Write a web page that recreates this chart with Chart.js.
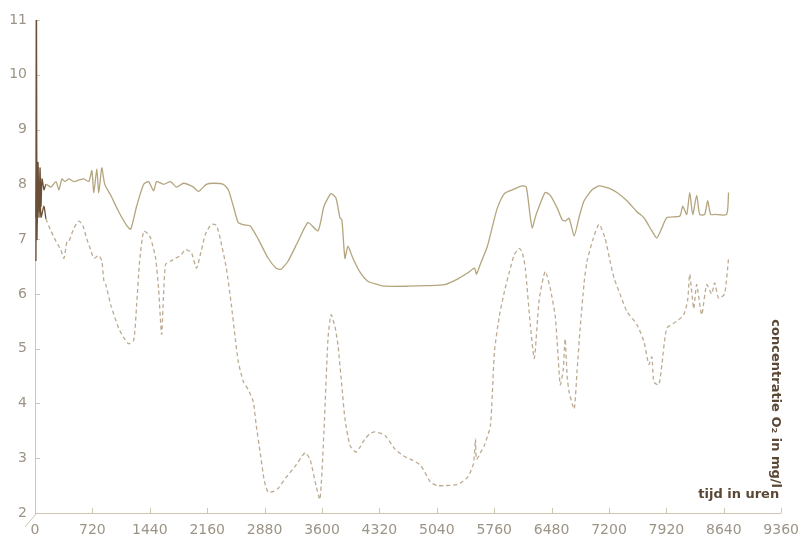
<!DOCTYPE html>
<html><head><meta charset="utf-8">
<script src="https://cdn.jsdelivr.net/npm/chart.js@4.4.1/dist/chart.umd.min.js"></script>
<style>html,body{margin:0;padding:0;background:#fff}#wrap{width:808px;height:540px;position:relative}</style>
</head><body><div id="wrap"><canvas id="c" width="808" height="540"></canvas></div>
<script>
const xTicks = [0,720,1440,2160,2880,3600,4320,5040,5760,6480,7200,7920,8640,9360];
const yTicks = [2,3,4,5,6,7,8,9,10,11];
const xTitle = 'tijd in uren';
const yTitle = 'concentratie O\u2082 in mg/l';

// upper (solid) series: hours and O2 concentration
const solidHours = [12,19,25,38,50,63,75,88,113,138,
  200,263,300,338,375,425,488,550,613,675,
  713,738,775,800,838,875,950,1050,1150,1200,
  1275,1363,1425,1488,1525,1613,1700,1775,1863,1988,
  2050,2150,2238,2363,2425,2488,2550,2625,2700,2800,
  2925,3025,3088,3175,3300,3425,3550,3625,3713,3775,
  3825,3850,3888,3925,3988,4075,4175,4300,4388,4675,
  4925,5138,5300,5425,5513,5538,5588,5675,5750,5800,
  5888,5988,6113,6163,6213,6238,6275,6325,6400,6463,
  6550,6613,6650,6700,6763,6825,6888,6988,7075,7150,
  7213,7300,7425,7550,7638,7738,7800,7863,7925,8088,
  8125,8175,8213,8250,8300,8338,8400,8438,8475,8525,
  8675,8700];
const solidValues = [6.6,11.0,7.0,8.4,7.4,8.3,7.6,8.1,7.9,8.0,
  7.95,8.05,7.9,8.1,8.05,8.1,8.05,8.08,8.1,8.05,
  8.25,7.85,8.28,7.85,8.3,8.0,7.8,7.5,7.25,7.18,
  7.6,8.0,8.05,7.88,8.05,8.0,8.05,7.95,8.02,7.95,
  7.87,8.0,8.02,8.0,7.9,7.6,7.3,7.26,7.24,7.0,
  6.65,6.47,6.45,6.6,6.96,7.3,7.15,7.6,7.83,7.75,
  7.39,7.35,6.65,6.87,6.65,6.4,6.23,6.17,6.14,6.14,
  6.15,6.17,6.27,6.38,6.47,6.36,6.55,6.87,7.3,7.57,
  7.83,7.9,7.97,7.95,7.4,7.2,7.4,7.6,7.85,7.8,
  7.57,7.35,7.33,7.38,7.06,7.4,7.7,7.9,7.97,7.95,
  7.92,7.85,7.7,7.5,7.39,7.15,7.02,7.2,7.39,7.42,
  7.6,7.45,7.85,7.45,7.8,7.45,7.45,7.7,7.45,7.45,
  7.45,7.85];

// lower (dashed) series
const dashHours = [12,19,25,38,50,63,75,113,138,200,
  263,325,363,400,425,488,550,600,650,700,
  738,800,838,863,888,950,1050,1113,1175,1238,
  1275,1313,1363,1413,1450,1513,1550,1588,1613,1638,
  1700,1763,1825,1888,1963,2025,2088,2138,2213,2275,
  2325,2400,2463,2513,2550,2613,2675,2738,2775,2825,
  2875,2925,3000,3050,3150,3263,3388,3450,3525,3575,
  3625,3675,3713,3763,3800,3850,3888,3950,4025,4075,
  4138,4200,4263,4388,4513,4613,4713,4838,4963,5050,
  5138,5300,5425,5500,5525,5538,5588,5638,5713,5763,
  5825,5888,5950,6013,6075,6113,6150,6213,6263,6325,
  6400,6463,6525,6550,6588,6625,6650,6675,6700,6763,
  6800,6838,6888,6925,7000,7075,7150,7213,7263,7338,
  7425,7550,7638,7700,7738,7763,7825,7863,7925,8050,
  8138,8188,8213,8263,8300,8363,8425,8488,8525,8575,
  8650,8700];
const dashValues = [7.4,8.2,7.3,8.0,7.5,7.9,7.4,7.6,7.37,7.15,
  6.96,6.8,6.65,6.95,6.96,7.2,7.33,7.25,7.0,6.8,
  6.65,6.7,6.6,6.25,6.17,5.8,5.37,5.2,5.09,5.15,
  5.8,6.6,7.15,7.1,7.02,6.65,6.1,5.26,6.0,6.54,
  6.6,6.65,6.7,6.81,6.75,6.47,6.8,7.09,7.27,7.25,
  7.0,6.47,5.8,5.18,4.76,4.4,4.25,4.03,3.6,3.1,
  2.6,2.38,2.4,2.45,2.65,2.85,3.1,2.98,2.5,2.25,
  3.5,5.18,5.62,5.4,5.07,4.3,3.72,3.24,3.11,3.2,
  3.35,3.45,3.48,3.42,3.17,3.05,2.98,2.87,2.56,2.5,
  2.5,2.52,2.65,2.9,3.35,2.98,3.1,3.24,3.6,4.94,
  5.6,6.04,6.4,6.72,6.83,6.75,6.47,5.44,4.82,5.9,
  6.41,6.1,5.6,5.13,4.34,4.6,5.18,4.5,4.21,3.9,
  4.6,5.37,6.2,6.6,7.0,7.27,7.02,6.6,6.29,6.0,
  5.68,5.44,5.13,4.71,4.85,4.39,4.34,4.7,5.37,5.5,
  5.62,5.9,6.36,5.73,6.17,5.62,6.17,6.0,6.2,5.92,
  6.0,6.65];

const solidColor = '#b4a57e';
const dashColor = '#bcab92';
const spikeColor = '#6a4f36';
const axisColor = '#cfc6b4';
const tickColor = '#9c9486';
const titleColor = '#5a4734';

const toPts = (h, v) => h.map((t, i) => ({x: t, y: v[i]}));

const framePlugin = {
  id: 'frame',
  beforeDatasetsDraw(chart) {
    const {ctx, chartArea: a, scales: {x, y}} = chart;
    ctx.save();
    ctx.strokeStyle = axisColor;
    ctx.lineWidth = 1;
    ctx.beginPath();
    ctx.moveTo(a.left + 0.5, a.top);
    ctx.lineTo(a.left + 0.5, a.bottom + 0.5);
    ctx.lineTo(a.right, a.bottom + 0.5);
    ctx.stroke();
    ctx.beginPath();
    yTicks.forEach(v => { const p = Math.round(y.getPixelForValue(v)) + 0.5; ctx.moveTo(a.left, p); ctx.lineTo(a.left + 5, p); });
    xTicks.forEach(v => { const p = Math.round(x.getPixelForValue(v)) + 0.5; ctx.moveTo(p, a.bottom); ctx.lineTo(p, a.bottom - 5); });
    ctx.stroke();
    ctx.beginPath();
    ctx.moveTo(a.left - 10, a.bottom + 14);
    ctx.lineTo(a.left + 1, a.bottom + 1);
    ctx.stroke();
    ctx.restore();
  },
  afterDraw(chart) {
    const {ctx, chartArea: a} = chart;
    ctx.save();
    ctx.fillStyle = titleColor;
    ctx.font = 'bold 13px "DejaVu Sans"';
    ctx.textAlign = 'right';
    ctx.textBaseline = 'middle';
    ctx.fillText(xTitle, a.right - 2, a.bottom - 18);
    ctx.translate(a.right - 6, a.bottom - 25);
    ctx.rotate(Math.PI / 2);
    ctx.fillText(yTitle, 0, 0);
    ctx.restore();
  }
};

new Chart(document.getElementById('c'), {
  type: 'line',
  data: {
    datasets: [
      {
        data: toPts(solidHours, solidValues),
        borderColor: solidColor,
        borderWidth: 1.3,
        pointRadius: 0,
        tension: 0.2,
        fill: false,
        clip: false,
        segment: { borderColor: c => c.p0.parsed.x < 120 ? spikeColor : solidColor }
      },
      {
        data: toPts(dashHours, dashValues),
        borderColor: dashColor,
        borderWidth: 1.3,
        borderDash: [4, 3],
        pointRadius: 0,
        tension: 0.2,
        fill: false,
        clip: false,
        segment: {
          borderColor: c => c.p0.parsed.x < 120 ? spikeColor : dashColor,
          borderDash: c => c.p0.parsed.x < 120 ? [] : [4, 3]
        }
      }
    ]
  },
  options: {
    responsive: false,
    animation: false,
    devicePixelRatio: 1,
    layout: { padding: { top: 20, right: 23, bottom: 0, left: 0 } },
    plugins: { legend: { display: false }, tooltip: { enabled: false } },
    scales: {
      x: {
        type: 'linear', min: 0, max: 9360,
        afterBuildTicks: s => { s.ticks = xTicks.map(v => ({ value: v })); },
        afterFit: s => { s.height = 27; },
        grid: { display: false, drawTicks: false },
        border: { display: false },
        ticks: { color: tickColor, font: { family: 'DejaVu Sans', size: 14 }, padding: 9, maxRotation: 0, autoSkip: false, callback: v => String(v) }
      },
      y: {
        type: 'linear', min: 2, max: 11,
        afterBuildTicks: s => { s.ticks = yTicks.map(v => ({ value: v })); },
        afterFit: s => { s.width = 35; },
        grid: { display: false, drawTicks: false },
        border: { display: false },
        ticks: { color: tickColor, font: { family: 'DejaVu Sans', size: 14 }, padding: 8, callback: v => String(v) }
      }
    }
  },
  plugins: [framePlugin]
});
</script>
</body></html>
